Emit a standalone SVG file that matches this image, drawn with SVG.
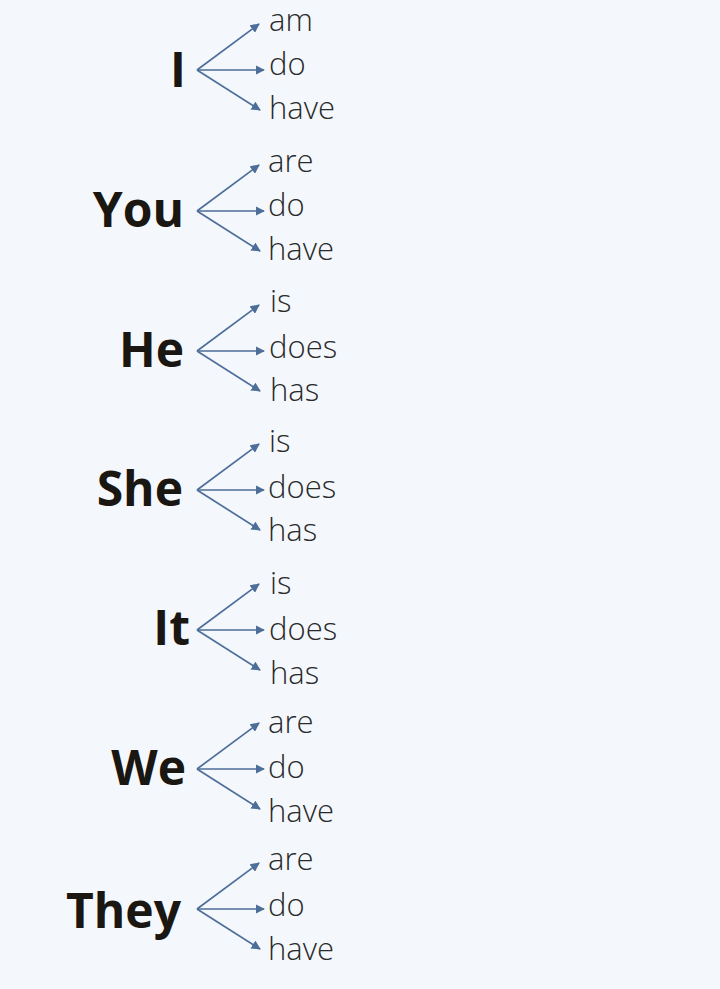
<svg xmlns="http://www.w3.org/2000/svg" width="720" height="989" viewBox="0 0 720 989">
<defs>
<marker id="ah" viewBox="0 0 10 10" refX="9" refY="5" markerWidth="5.5" markerHeight="5.5" orient="auto" markerUnits="strokeWidth">
<path d="M0,0 L10,5 L0,10 Z" fill="#4d6e99"/>
</marker>
</defs>
<style>
.pron{font-family:"Open Sans","Liberation Sans",sans-serif;font-weight:700;font-size:48px;fill:#1a1612;text-anchor:end}
.verb{font-family:"Open Sans","Liberation Sans",sans-serif;font-weight:350;font-size:31px;fill:#2a2a2a}
.conn line{stroke:#4d6e99;stroke-width:1.7;marker-end:url(#ah)}
</style>
<rect width="720" height="989" fill="#f4f8fc"/>
<g id="connectors" class="conn">
<line x1="197" y1="70" x2="259" y2="24"/><line x1="197" y1="70" x2="264" y2="70"/><line x1="197" y1="70" x2="260" y2="110"/>
<line x1="197" y1="211" x2="259" y2="165"/><line x1="197" y1="211" x2="264" y2="211"/><line x1="197" y1="211" x2="260" y2="251"/>
<line x1="197" y1="351" x2="259" y2="305"/><line x1="197" y1="351" x2="264" y2="351"/><line x1="197" y1="351" x2="260" y2="391"/>
<line x1="197" y1="490" x2="259" y2="444"/><line x1="197" y1="490" x2="264" y2="490"/><line x1="197" y1="490" x2="260" y2="530"/>
<line x1="197" y1="630" x2="259" y2="584"/><line x1="197" y1="630" x2="264" y2="630"/><line x1="197" y1="630" x2="260" y2="670"/>
<line x1="197" y1="769" x2="259" y2="723"/><line x1="197" y1="769" x2="264" y2="769"/><line x1="197" y1="769" x2="260" y2="809"/>
<line x1="197" y1="909" x2="259" y2="863"/><line x1="197" y1="909" x2="264" y2="909"/><line x1="197" y1="909" x2="260" y2="949"/>
</g>
<g id="node-I"><text class="pron" x="186" y="87">I</text>
<text class="verb" x="269" y="31">am</text><text class="verb" x="269" y="75">do</text><text class="verb" x="269" y="119">have</text></g>
<g id="node-You"><text class="pron" x="184" y="227">You</text>
<text class="verb" x="268" y="172">are</text><text class="verb" x="268" y="216">do</text><text class="verb" x="268" y="260">have</text></g>
<g id="node-He"><text class="pron" x="184" y="367">He</text>
<text class="verb" x="270" y="312">is</text><text class="verb" x="269" y="358">does</text><text class="verb" x="270" y="401">has</text></g>
<g id="node-She"><text class="pron" x="183" y="506">She</text>
<text class="verb" x="269" y="452">is</text><text class="verb" x="268" y="498">does</text><text class="verb" x="268" y="541">has</text></g>
<g id="node-It"><text class="pron" x="190" y="645">It</text>
<text class="verb" x="270" y="594">is</text><text class="verb" x="269" y="640">does</text><text class="verb" x="270" y="684">has</text></g>
<g id="node-We"><text class="pron" x="186" y="785">We</text>
<text class="verb" x="268" y="733">are</text><text class="verb" x="268" y="778">do</text><text class="verb" x="268" y="822">have</text></g>
<g id="node-They"><text class="pron" x="181" y="928">They</text>
<text class="verb" x="268" y="870">are</text><text class="verb" x="268" y="916">do</text><text class="verb" x="268" y="960">have</text></g>
</svg>
